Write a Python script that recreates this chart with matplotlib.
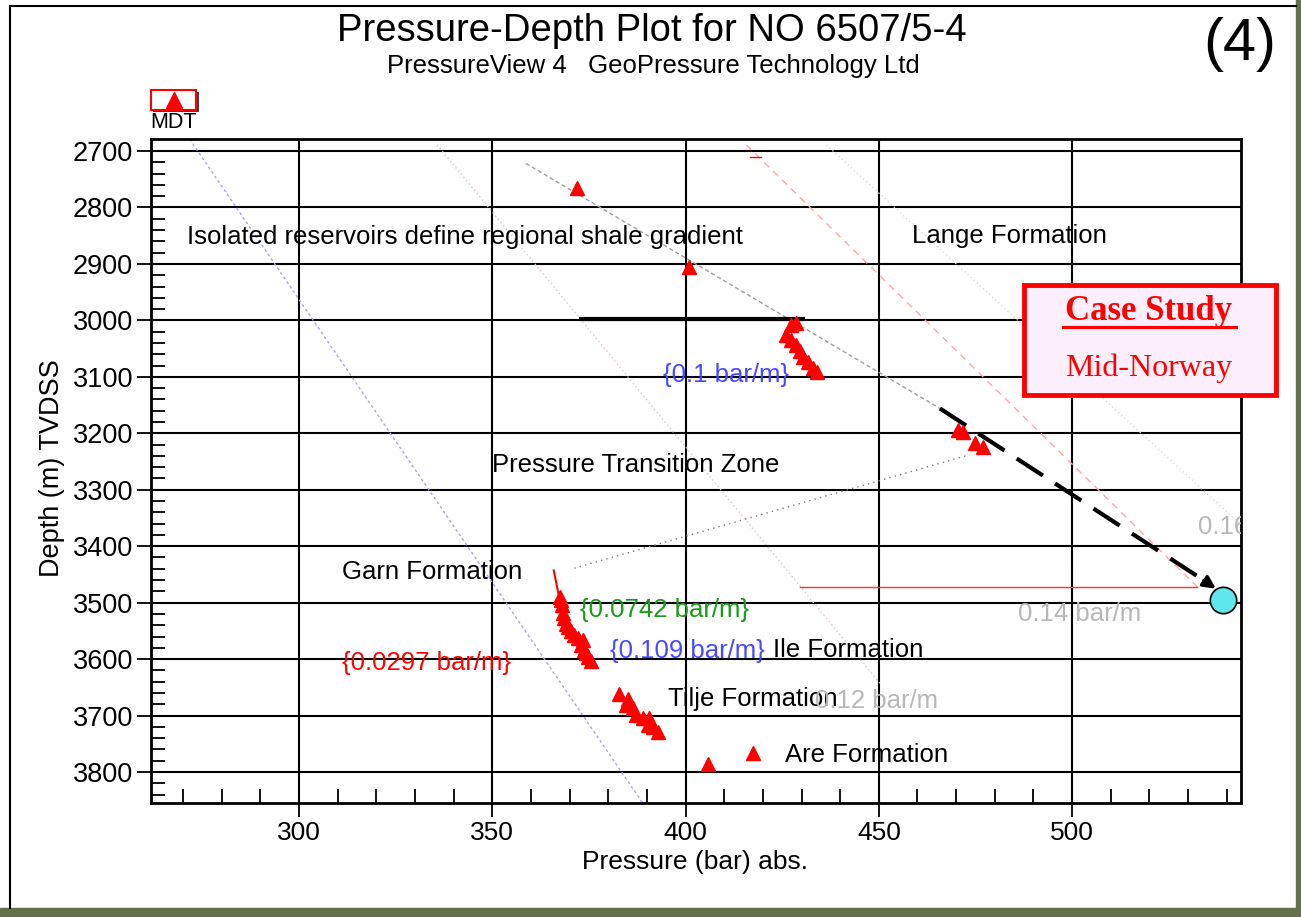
import matplotlib
matplotlib.use('Agg')
import matplotlib.pyplot as plt
from matplotlib.patches import Rectangle
import numpy as np

# ---------------- data ----------------
mdt_pressure = [371.9, 400.9,
                428.7, 427.4, 426.1, 427.4, 428.7, 429.5, 430.4, 431.7, 433.0, 433.9,
                470.4, 471.8, 474.8, 477.0,
                367.6, 367.8, 368.0, 368.2, 368.6, 369.1, 369.7, 370.4, 371.2, 372.1, 373.4, 373.0,
                373.8, 374.2, 374.7, 375.5,
                382.9, 385.0, 384.6, 386.3, 387.2, 388.9, 390.6, 390.2, 391.5, 392.8,
                405.8, 417.5]
mdt_depth = [2765, 2906,
             3005, 3008, 3026, 3035, 3044, 3055, 3064, 3073, 3085, 3091,
             3194, 3197, 3218, 3224,
             3490, 3496, 3505, 3519, 3528, 3537, 3544, 3551, 3557, 3563, 3566, 3575,
             3584, 3590, 3596, 3604,
             3661, 3670, 3681, 3687, 3699, 3705, 3705, 3717, 3720, 3729,
             3786, 3767]

hydro_p = [271.7, 388.9]          # water gradient guide (0.1 bar/m)
hydro_d = [2679, 3855]
shale_p = [358.7, 465.8]          # regional shale gradient
shale_d = [2722, 3156]
trend_p = [465.8, 533.5]          # extrapolated trend (dashed arrow)
trend_d = [3156, 3458]
arrow_tip = (537.8, 3478)
target_p = [539.1]
target_d = [3495]
g014_p = [415.7, 532.4]           # 0.14 bar/m guide (pink dashed)
g014_d = [2689, 3472]
g012_p = [335.7, 450.3]           # 0.12 bar/m guide
g012_d = [2689, 3643]
g016_p = [436.4, 543.7]           # 0.16 bar/m guide
g016_d = [2689, 3362]
ref_p = [429.5, 532.4]            # horizontal reference at 3472 m
ref_d = [3472, 3472]
gas_p = [365.9, 368.6]            # gas fit {0.0297 bar/m}
gas_d = [3443, 3535]
trans_p = [371.2, 473.5]          # transition zone pointer
trans_d = [3439, 3238]
cap_p = [372.5, 430.8]            # thick bar near 3000 m
cap_d = [2997, 2997]
mark_p = [416.6, 419.4]
mark_d = [2710, 2710]

xticks = [300, 350, 400, 450, 500]
yticks = list(range(2700, 3801, 100))

# ---------------- figure ----------------
W, H = 1301, 917
plt.rcParams['font.family'] = ['Liberation Sans', 'DejaVu Sans']
fig = plt.figure(figsize=(W / 100, H / 100), dpi=100)
fig.patch.set_facecolor('white')

def fx(px):
    return px / W

def fy(py):
    return 1 - py / H

# frame
olive = '#63704a'
fig.add_artist(Rectangle((0, 0), 1, fy(908), transform=fig.transFigure, color=olive, zorder=0))
fig.add_artist(Rectangle((fx(1296), 0), 1 - fx(1296), 1, transform=fig.transFigure, color=olive, zorder=0))
fig.add_artist(plt.Line2D([fx(9.5), fx(9.5)], [fy(6), fy(908)], transform=fig.transFigure, color='black', lw=1.5))
fig.add_artist(plt.Line2D([fx(9.5), fx(1296)], [fy(6), fy(6)], transform=fig.transFigure, color='black', lw=1.5))

ax = fig.add_axes([fx(151), fy(803), fx(1241) - fx(151), fy(139) - fy(803)])
ax.set_xlim(261.7, 543.7)
ax.set_ylim(3854.9, 2678.7)

ax.set_xticks(xticks)
ax.set_yticks(yticks)
ax.set_xticks(np.arange(270, 541, 10), minor=True)
ax.set_yticks(np.arange(2700, 3851, 20), minor=True)
ax.tick_params(axis='both', which='major', direction='out', length=10, width=1.3, colors='black')
ax.tick_params(axis='x', which='major', labelsize=19, pad=3)
ax.tick_params(axis='y', which='major', labelsize=19.5, pad=3)
ax.tick_params(axis='both', which='minor', direction='in', length=10, width=1.3)
ax.grid(True, which='major', color='black', lw=1.5, zorder=1)
for s in ax.spines.values():
    s.set_linewidth(2)
fig.text(fx(695), fy(862), 'Pressure (bar) abs.', fontsize=19, ha='center', va='center')
fig.text(fx(52), fy(468), 'Depth (m) TVDSS', fontsize=19.5, ha='center', va='center', rotation=90)

# guide lines
ax.plot(hydro_p, hydro_d, color='#a4a6f2', lw=1, ls=(0, (2, 2)), zorder=2)
ax.plot(g012_p, g012_d, color='#e2c4c4', lw=1, ls=(0, (1, 2)), zorder=2)
ax.plot(g016_p, g016_d, color='#dcdcdc', lw=1, ls=(0, (1, 2)), zorder=2)
ax.plot(shale_p, shale_d, color='#a0a0a0', lw=1, ls=(0, (3, 2)), zorder=2)
ax.plot(g014_p, g014_d, color='#ffa8a8', lw=1, ls=(0, (5, 4)), zorder=2)
ax.plot(ref_p, ref_d, color='#ff3030', lw=1, zorder=2)
ax.plot(trans_p, trans_d, color='#808080', lw=1, ls=(0, (1, 3)), zorder=2)
ax.plot(mark_p, mark_d, color='red', lw=1, zorder=2)
ax.plot(cap_p, cap_d, color='black', lw=3, solid_capstyle='butt', zorder=3)
ax.plot(gas_p, gas_d, color='red', lw=1.5, zorder=4)

# trend dashed arrow
ax.plot(trend_p, trend_d, color='black', lw=3, ls=(0, (7.5, 3.5)), zorder=5)
ax.annotate('', xy=arrow_tip, xytext=(trend_p[1], trend_d[1]),
            arrowprops=dict(arrowstyle='-|>', color='black', lw=2.5, mutation_scale=18),
            zorder=6)
ax.plot(target_p, target_d, 'o', ms=19, mfc='#5fe8ec', mec='black', mew=1.2, zorder=6)

# MDT data
ax.plot(mdt_pressure, mdt_depth, '^', ms=10, color='red', mec='red', ls='none', zorder=7)

# annotations
def t(x, y, s, color='black', size=18.5):
    tx = ax.text(x, y, s, color=color, fontsize=size, ha='left', va='center', zorder=8)
    tx.set_clip_on(True)

t(271.0, 2852, 'Isolated reservoirs define regional shale gradient')
t(458.6, 2851, 'Lange Formation')
t(349.9, 3256, 'Pressure Transition Zone')
t(311.1, 3446, 'Garn Formation')
t(372.7, 3513, '{0.0742 bar/m}', color='#1a9a1a')
t(380.5, 3586, '{0.109 bar/m}', color='#4848ff')
t(422.6, 3584, 'Ile Formation')
t(311.1, 3607, '{0.0297 bar/m}', color='red')
t(395.5, 3671, 'Tilje Formation')
t(433.5, 3674, '0.12 bar/m', color='#b8b8b8')
t(425.7, 3770, 'Are Formation')
t(394.2, 3097, '{0.1 bar/m}', color='#4848ff')
t(486.0, 3520, '0.14 bar/m', color='#b8b8b8')
t(532.6, 3366, '0.16', color='#b8b8b8')

# case study box
fig.add_artist(Rectangle((fx(1024), fy(395)), fx(1276) - fx(1024), fy(285) - fy(395),
                         transform=fig.transFigure, facecolor='#fdeefb', edgecolor='red', lw=3.5, zorder=10))
fig.text(fx(1149), fy(311), 'Case Study', family='Liberation Serif', fontweight='bold',
         fontsize=25, color='red', ha='center', va='center', zorder=11)
fig.add_artist(plt.Line2D([fx(1063), fx(1236)], [fy(327), fy(327)], transform=fig.transFigure,
                          color='red', lw=2.2, zorder=11))
fig.text(fx(1149), fy(368), 'Mid-Norway', family='Liberation Serif', fontsize=23,
         color='red', ha='center', va='center', zorder=11)

# titles
fig.text(fx(652), fy(31), 'Pressure-Depth Plot for NO 6507/5-4', fontsize=27.5, ha='center', va='center')
fig.text(fx(653), fy(66), 'PressureView 4   GeoPressure Technology Ltd', fontsize=18.5, ha='center', va='center')
fig.text(fx(1240), fy(45), '(4)', fontsize=43, ha='center', va='center')

# legend
fig.add_artist(Rectangle((fx(153), fy(112)), fx(199) - fx(153), fy(92) - fy(112),
                         transform=fig.transFigure, facecolor='#404040', edgecolor='none', zorder=10))
fig.add_artist(Rectangle((fx(151), fy(110)), fx(196) - fx(151), fy(90) - fy(110),
                         transform=fig.transFigure, facecolor='white', edgecolor='red', lw=1.5, zorder=11))
fig.add_artist(plt.Line2D([fx(173.5)], [fy(100)], transform=fig.transFigure, marker='^', ms=11,
                          color='red', ls='none', zorder=12))
fig.text(fx(174), fy(123), 'MDT', fontsize=15.5, ha='center', va='center')

fig.savefig('out.png', dpi=100)
